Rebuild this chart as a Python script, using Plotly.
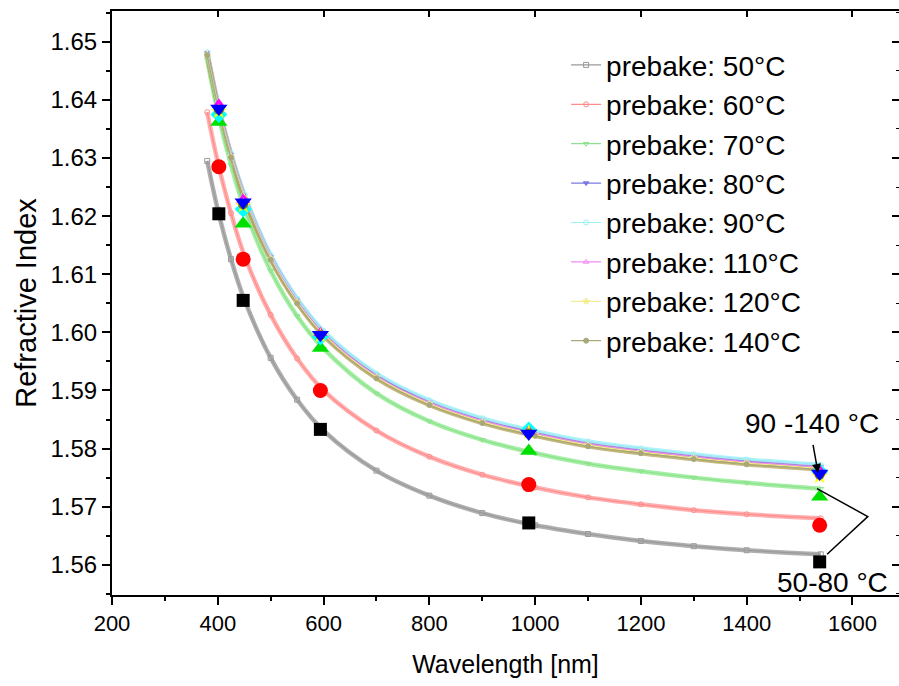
import plotly.graph_objects as go

# ---------------- data ----------------
series_names = ["prebake: 50°C", "prebake: 60°C", "prebake: 70°C", "prebake: 80°C",
                "prebake: 90°C", "prebake: 110°C", "prebake: 120°C", "prebake: 140°C"]

# fitted dispersion curves (read at these wavelengths)
fit_wl = [380, 400, 425, 450, 500, 550, 600, 700, 800, 900, 1000, 1100, 1200, 1300, 1400, 1540]
fit_50 = [1.6295, 1.6211, 1.6126, 1.6057, 1.5956, 1.5884, 1.5831, 1.5762, 1.5719, 1.5689,
          1.5668, 1.5653, 1.5641, 1.5632, 1.5625, 1.5618]
fit_60 = [1.6379, 1.6293, 1.6205, 1.6133, 1.6030, 1.5955, 1.5900, 1.5831, 1.5786, 1.5755,
          1.5733, 1.5716, 1.5704, 1.5694, 1.5687, 1.5680]
fit_70 = [1.6470, 1.6379, 1.6288, 1.6214, 1.6106, 1.6028, 1.5972, 1.5895, 1.5847, 1.5815,
          1.5792, 1.5774, 1.5761, 1.5750, 1.5741, 1.5731]
fit_80 = [1.6481, 1.6394, 1.6306, 1.6235, 1.6130, 1.6055, 1.5999, 1.5926, 1.5880, 1.5849,
          1.5827, 1.5809, 1.5797, 1.5787, 1.5778, 1.5769]
fit_90 = [1.6482, 1.6396, 1.6308, 1.6238, 1.6133, 1.6058, 1.6002, 1.5929, 1.5883, 1.5852,
          1.5830, 1.5812, 1.5800, 1.5790, 1.5781, 1.5772]
fit_110 = [1.6480, 1.6393, 1.6305, 1.6234, 1.6129, 1.6054, 1.5998, 1.5925, 1.5879, 1.5848,
           1.5826, 1.5808, 1.5796, 1.5786, 1.5777, 1.5768]
fit_120 = [1.6478, 1.6391, 1.6303, 1.6232, 1.6127, 1.6052, 1.5996, 1.5923, 1.5877, 1.5846,
           1.5824, 1.5806, 1.5794, 1.5784, 1.5775, 1.5766]
fit_140 = [1.6477, 1.6389, 1.6301, 1.6230, 1.6125, 1.6050, 1.5994, 1.5921, 1.5875, 1.5844,
           1.5822, 1.5804, 1.5792, 1.5782, 1.5773, 1.5764]

# measured points
meas_wl = [402, 448, 594, 988, 1538]
meas_50 = [1.6204, 1.6055, 1.5833, 1.5672, 1.5605]
meas_60 = [1.6285, 1.6126, 1.5900, 1.5738, 1.5668]
meas_70 = [1.6362, 1.6187, 1.5973, 1.5796, 1.5717]
meas_80 = [1.6385, 1.6224, 1.5996, 1.5826, 1.5757]
meas_90 = [1.6375, 1.6212, 1.5992, 1.5832, 1.5760]
meas_110 = [1.6392, 1.6228, 1.5999, 1.5830, 1.5762]
meas_120 = [1.6380, 1.6218, 1.5994, 1.5828, 1.5752]
meas_140 = [1.6383, 1.6220, 1.5995, 1.5826, 1.5755]

x_range = [200, 1688]
y_range = [1.5548, 1.6553]
x_ticks = [200, 400, 600, 800, 1000, 1200, 1400, 1600]
y_ticks = [1.56, 1.57, 1.58, 1.59, 1.60, 1.61, 1.62, 1.63, 1.64, 1.65]

# ---------------- styling ----------------
fits = [fit_50, fit_60, fit_70, fit_80, fit_90, fit_110, fit_120, fit_140]
meas = [meas_50, meas_60, meas_70, meas_80, meas_90, meas_110, meas_120, meas_140]
band_colors = ["rgba(110,110,110,0.55)", "rgba(255,110,110,0.55)", "rgba(90,225,90,0.55)",
               "rgba(120,110,255,0.55)", "rgba(120,235,245,0.6)", "rgba(240,120,240,0.55)",
               "rgba(240,230,110,0.6)", "rgba(150,130,40,0.55)"]
leg_colors = ["#9a9a9a", "#ff8c8c", "#8fe08f", "#7a7ae0", "#9ef0f5", "#f08cf0", "#f2ee90", "#a8a878"]
leg_symbols = ["square-open", "circle-open", "triangle-down-open", "triangle-down",
               "circle-open", "triangle-up-open", "star", "circle"]
meas_colors = ["#000000", "#ff0000", "#00e000", "#0000ff", "#00ffff", "#ff00ff", "#ffff00", "#808000"]
meas_symbols = ["square", "circle", "triangle-up", "triangle-down", "diamond",
                "triangle-up", "star", "circle"]
meas_sizes = [13, 15, 15, 15, 13, 12, 12, 10]

FONT = "Liberation Sans, Arial, sans-serif"

fig = go.Figure()

# bands (fits), drawn first
for i in range(8):
    fig.add_trace(go.Scatter(x=fit_wl, y=fits[i], mode="lines",
                             line=dict(color=band_colors[i], width=4.5, shape="spline"),
                             showlegend=False, hoverinfo="skip"))
# thin fit lines with small hollow markers (legend entries)
for i in range(8):
    fig.add_trace(go.Scatter(x=fit_wl, y=fits[i], mode="lines+markers", name=series_names[i],
                             line=dict(color=leg_colors[i], width=1.2, shape="spline"),
                             marker=dict(symbol=leg_symbols[i], size=5, color=leg_colors[i],
                                         line=dict(width=1, color=leg_colors[i]))))

# measured points, blue drawn last
order = [0, 1, 2, 4, 5, 6, 7, 3]
for i in order:
    fig.add_trace(go.Scatter(x=meas_wl, y=meas[i], mode="markers", showlegend=False,
                             marker=dict(symbol=meas_symbols[i], size=meas_sizes[i],
                                         color=meas_colors[i], line=dict(width=0))))

# empty trace for the mirrored (top/right) axes with inward ticks
fig.add_trace(go.Scatter(x=[], y=[], xaxis="x2", yaxis="y2", showlegend=False))

axis_common = dict(showgrid=False, zeroline=False, linecolor="black",
                   linewidth=2, tickcolor="black", tickwidth=2, automargin=False)

fig.update_layout(
    width=899, height=686,
    margin=dict(l=112, r=0, t=11, b=91, autoexpand=False),
    paper_bgcolor="white", plot_bgcolor="white",
    font=dict(family=FONT, color="black"),
    xaxis=dict(range=x_range, tickvals=x_ticks, ticks="outside", ticklen=8, showline=True,
               minor=dict(dtick=100, ticks="outside", ticklen=4, tickwidth=2, tickcolor="black"),
               tickfont=dict(size=22, family=FONT),
               title=dict(text="Wavelength [nm]", font=dict(size=25, family=FONT), standoff=20),
               **axis_common),
    yaxis=dict(range=y_range, tickvals=y_ticks, tickformat=".2f", ticks="outside", ticklen=8,
               showline=True,
               minor=dict(dtick=0.005, ticks="outside", ticklen=4, tickwidth=2, tickcolor="black"),
               tickfont=dict(size=24, family=FONT),
               title=dict(text="Refractive Index", font=dict(size=29, family=FONT), standoff=5),
               **axis_common),
    xaxis2=dict(range=x_range, overlaying="x", side="top", tickvals=x_ticks, ticks="inside",
                ticklen=6, showticklabels=False, anchor="y", showline=True,
                **axis_common),
    yaxis2=dict(range=y_range, overlaying="y", side="right", tickvals=y_ticks, ticks="inside",
                ticklen=7, showticklabels=False, anchor="x", showline=False,
                minor=dict(dtick=0.005, ticks="inside", ticklen=3, tickwidth=1, tickcolor="black"),
                **axis_common),
    legend=dict(x=0.577, y=0.95, xanchor="left", yanchor="top", bgcolor="rgba(0,0,0,0)",
                font=dict(size=28, family=FONT), tracegroupgap=0, itemwidth=30),
    showlegend=True,
)

# annotations
fig.add_annotation(x=1535, y=1.5758, ax=1525, ay=1.5809, xref="x", yref="y", axref="x", ayref="y",
                   text="", showarrow=True, arrowhead=2, arrowsize=1.2, arrowwidth=1.5, arrowcolor="black")
fig.add_annotation(x=1523, y=1.5843, xref="x", yref="y", text="90 -140 °C", showarrow=False,
                   font=dict(size=28, family=FONT))
fig.add_annotation(x=1563, y=1.5570, xref="x", yref="y", text="50-80 °C", showarrow=False,
                   font=dict(size=28, family=FONT))
fig.add_shape(type="path", xref="x", yref="y",
              path="M 1533,1.5731 L 1629,1.5683 L 1552,1.5618",
              line=dict(color="black", width=1.5))

fig.write_html("out.html", config={"displayModeBar": False},
               post_script="document.body.style.margin='0';document.body.style.overflow='hidden';")
